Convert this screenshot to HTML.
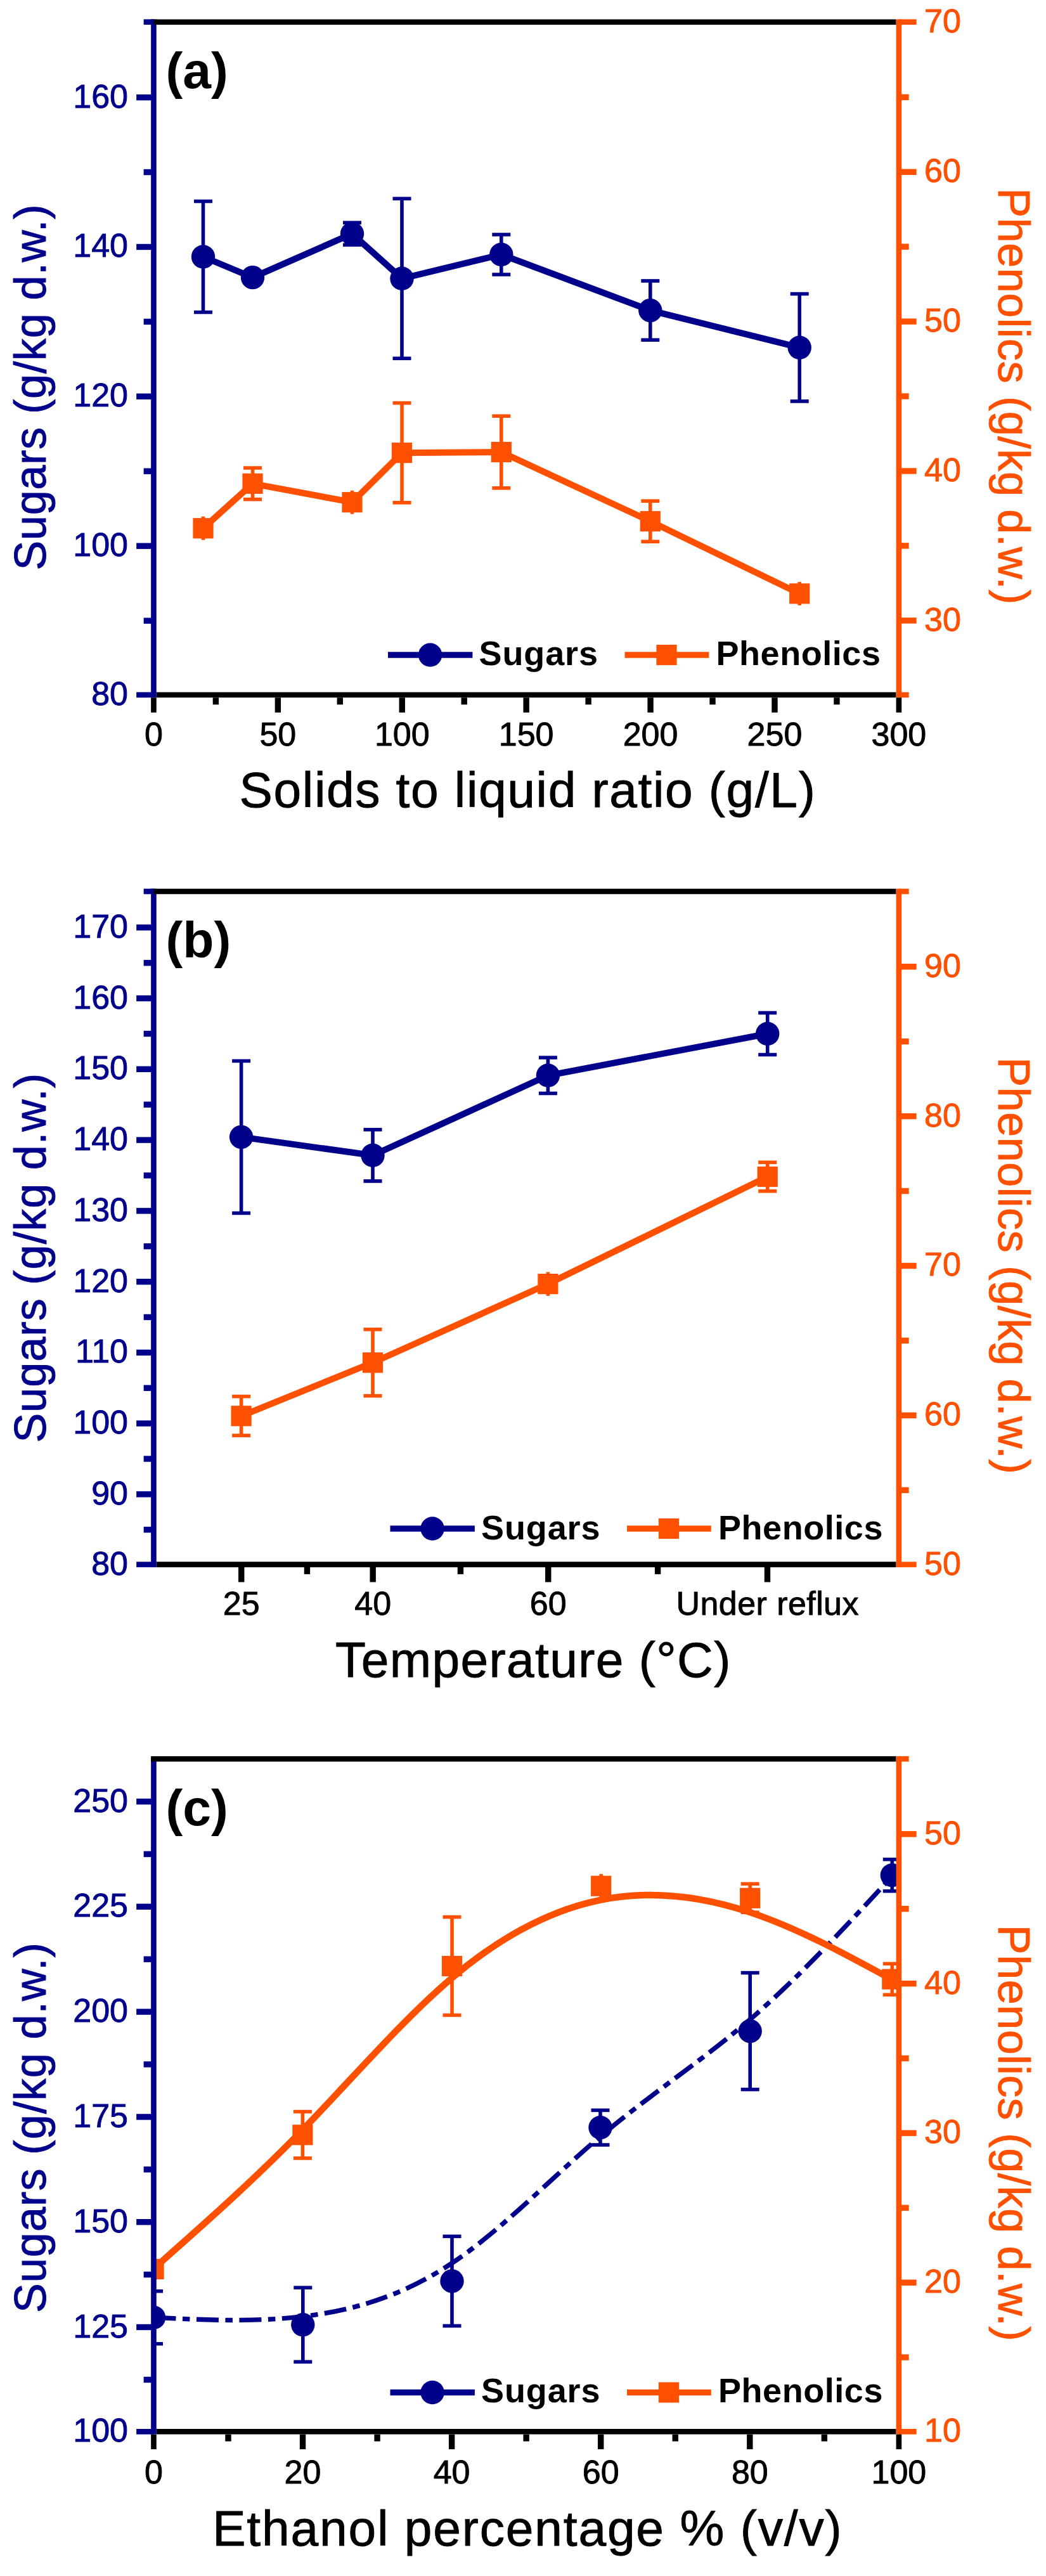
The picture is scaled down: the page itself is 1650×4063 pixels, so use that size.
<!DOCTYPE html>
<html><head><meta charset="utf-8"><title>Figure</title>
<style>html,body{margin:0;padding:0;background:#fff}svg{display:block}text{font-family:"Liberation Sans",sans-serif}</style>
</head><body>
<svg width="1650" height="4063" viewBox="0 0 1650 4063">
<rect width="1650" height="4063" fill="#fff"/>
<clipPath id="ca"><rect x="242.45" y="34.7" width="1175.45" height="1061.3"/></clipPath>
<g clip-path="url(#ca)">
<line x1="320.5" y1="317.5" x2="320.5" y2="492.5" stroke="#00008B" stroke-width="5.6" />
<line x1="306" y1="317.5" x2="335" y2="317.5" stroke="#00008B" stroke-width="5.6" />
<line x1="306" y1="492.5" x2="335" y2="492.5" stroke="#00008B" stroke-width="5.6" />
<line x1="555.5" y1="351.2" x2="555.5" y2="386.2" stroke="#00008B" stroke-width="5.6" />
<line x1="541" y1="351.2" x2="570" y2="351.2" stroke="#00008B" stroke-width="5.6" />
<line x1="541" y1="386.2" x2="570" y2="386.2" stroke="#00008B" stroke-width="5.6" />
<line x1="634" y1="313.3" x2="634" y2="565.3" stroke="#00008B" stroke-width="5.6" />
<line x1="619.5" y1="313.3" x2="648.5" y2="313.3" stroke="#00008B" stroke-width="5.6" />
<line x1="619.5" y1="565.3" x2="648.5" y2="565.3" stroke="#00008B" stroke-width="5.6" />
<line x1="790.8" y1="370" x2="790.8" y2="433" stroke="#00008B" stroke-width="5.6" />
<line x1="776.3" y1="370" x2="805.3" y2="370" stroke="#00008B" stroke-width="5.6" />
<line x1="776.3" y1="433" x2="805.3" y2="433" stroke="#00008B" stroke-width="5.6" />
<line x1="1025.8" y1="443" x2="1025.8" y2="536.2" stroke="#00008B" stroke-width="5.6" />
<line x1="1011.3" y1="443" x2="1040.3" y2="443" stroke="#00008B" stroke-width="5.6" />
<line x1="1011.3" y1="536.2" x2="1040.3" y2="536.2" stroke="#00008B" stroke-width="5.6" />
<line x1="1261.2" y1="463.5" x2="1261.2" y2="632.9" stroke="#00008B" stroke-width="5.6" />
<line x1="1246.7" y1="463.5" x2="1275.7" y2="463.5" stroke="#00008B" stroke-width="5.6" />
<line x1="1246.7" y1="632.9" x2="1275.7" y2="632.9" stroke="#00008B" stroke-width="5.6" />
<polyline points="320.5,405 398.5,437.6 555.5,368.7 634,439.3 790.8,401.5 1025.8,489.6 1261.2,548.2" fill="none" stroke="#00008B" stroke-width="10" stroke-linejoin="round" />
<circle cx="320.5" cy="405" r="18.7" fill="#00008B"/>
<circle cx="398.5" cy="437.6" r="18.7" fill="#00008B"/>
<circle cx="555.5" cy="368.7" r="18.7" fill="#00008B"/>
<circle cx="634" cy="439.3" r="18.7" fill="#00008B"/>
<circle cx="790.8" cy="401.5" r="18.7" fill="#00008B"/>
<circle cx="1025.8" cy="489.6" r="18.7" fill="#00008B"/>
<circle cx="1261.2" cy="548.2" r="18.7" fill="#00008B"/>
<line x1="320.5" y1="814.7" x2="320.5" y2="851.7" stroke="#FF5000" stroke-width="5.6" />
<line x1="398.5" y1="738" x2="398.5" y2="787.6" stroke="#FF5000" stroke-width="5.6" />
<line x1="384" y1="738" x2="413" y2="738" stroke="#FF5000" stroke-width="5.6" />
<line x1="384" y1="787.6" x2="413" y2="787.6" stroke="#FF5000" stroke-width="5.6" />
<line x1="555.5" y1="773.7" x2="555.5" y2="810.7" stroke="#FF5000" stroke-width="5.6" />
<line x1="634" y1="635.6" x2="634" y2="792.8" stroke="#FF5000" stroke-width="5.6" />
<line x1="619.5" y1="635.6" x2="648.5" y2="635.6" stroke="#FF5000" stroke-width="5.6" />
<line x1="619.5" y1="792.8" x2="648.5" y2="792.8" stroke="#FF5000" stroke-width="5.6" />
<line x1="790.8" y1="656.2" x2="790.8" y2="769.8" stroke="#FF5000" stroke-width="5.6" />
<line x1="776.3" y1="656.2" x2="805.3" y2="656.2" stroke="#FF5000" stroke-width="5.6" />
<line x1="776.3" y1="769.8" x2="805.3" y2="769.8" stroke="#FF5000" stroke-width="5.6" />
<line x1="1025.8" y1="790.2" x2="1025.8" y2="854.2" stroke="#FF5000" stroke-width="5.6" />
<line x1="1011.3" y1="790.2" x2="1040.3" y2="790.2" stroke="#FF5000" stroke-width="5.6" />
<line x1="1011.3" y1="854.2" x2="1040.3" y2="854.2" stroke="#FF5000" stroke-width="5.6" />
<line x1="1261.2" y1="917.8" x2="1261.2" y2="954.8" stroke="#FF5000" stroke-width="5.6" />
<polyline points="320.5,833.2 398.5,762.8 555.5,792.2 634,714.2 790.8,713 1025.8,822.2 1261.2,936.3" fill="none" stroke="#FF5000" stroke-width="10" stroke-linejoin="round" />
<rect x="304.4" y="817.1" width="32.2" height="32.2" fill="#FF5000"/>
<rect x="382.4" y="746.7" width="32.2" height="32.2" fill="#FF5000"/>
<rect x="539.4" y="776.1" width="32.2" height="32.2" fill="#FF5000"/>
<rect x="617.9" y="698.1" width="32.2" height="32.2" fill="#FF5000"/>
<rect x="774.7" y="696.9" width="32.2" height="32.2" fill="#FF5000"/>
<rect x="1009.7" y="806.1" width="32.2" height="32.2" fill="#FF5000"/>
<rect x="1245.1" y="920.2" width="32.2" height="32.2" fill="#FF5000"/>
</g>
<line x1="246.75" y1="1096" x2="1413.6" y2="1096" stroke="#000000" stroke-width="8.6" />
<line x1="242.45" y1="30.4" x2="242.45" y2="1100.3" stroke="#00008B" stroke-width="8.6" />
<line x1="238.15" y1="34.7" x2="1413.6" y2="34.7" stroke="#000000" stroke-width="8.6" />
<line x1="1417.9" y1="30.4" x2="1417.9" y2="1100.3" stroke="#FF5000" stroke-width="8.6" />
<line x1="215.15" y1="1096" x2="242.45" y2="1096" stroke="#00008B" stroke-width="8.6" />
<text x="202" y="1112" font-size="52" fill="#00008B" text-anchor="end" stroke="#00008B" stroke-width="0.9">80</text>
<line x1="215.15" y1="861.16" x2="242.45" y2="861.16" stroke="#00008B" stroke-width="9.4" />
<text x="202" y="877.16" font-size="52" fill="#00008B" text-anchor="end" stroke="#00008B" stroke-width="0.9">100</text>
<line x1="215.15" y1="625.31" x2="242.45" y2="625.31" stroke="#00008B" stroke-width="9.4" />
<text x="202" y="641.31" font-size="52" fill="#00008B" text-anchor="end" stroke="#00008B" stroke-width="0.9">120</text>
<line x1="215.15" y1="389.47" x2="242.45" y2="389.47" stroke="#00008B" stroke-width="9.4" />
<text x="202" y="405.47" font-size="52" fill="#00008B" text-anchor="end" stroke="#00008B" stroke-width="0.9">140</text>
<line x1="215.15" y1="153.62" x2="242.45" y2="153.62" stroke="#00008B" stroke-width="9.4" />
<text x="202" y="169.62" font-size="52" fill="#00008B" text-anchor="end" stroke="#00008B" stroke-width="0.9">160</text>
<line x1="226.65" y1="979.08" x2="242.45" y2="979.08" stroke="#00008B" stroke-width="9.4" />
<line x1="226.65" y1="743.23" x2="242.45" y2="743.23" stroke="#00008B" stroke-width="9.4" />
<line x1="226.65" y1="507.39" x2="242.45" y2="507.39" stroke="#00008B" stroke-width="9.4" />
<line x1="226.65" y1="271.54" x2="242.45" y2="271.54" stroke="#00008B" stroke-width="9.4" />
<line x1="226.65" y1="34.7" x2="242.45" y2="34.7" stroke="#00008B" stroke-width="8.6" />
<line x1="1417.9" y1="978.78" x2="1445.7" y2="978.78" stroke="#FF5000" stroke-width="9.4" />
<text x="1458" y="994.78" font-size="52" fill="#FF5000" stroke="#FF5000" stroke-width="0.9">30</text>
<line x1="1417.9" y1="742.93" x2="1445.7" y2="742.93" stroke="#FF5000" stroke-width="9.4" />
<text x="1458" y="758.93" font-size="52" fill="#FF5000" stroke="#FF5000" stroke-width="0.9">40</text>
<line x1="1417.9" y1="507.09" x2="1445.7" y2="507.09" stroke="#FF5000" stroke-width="9.4" />
<text x="1458" y="523.09" font-size="52" fill="#FF5000" stroke="#FF5000" stroke-width="0.9">50</text>
<line x1="1417.9" y1="271.24" x2="1445.7" y2="271.24" stroke="#FF5000" stroke-width="9.4" />
<text x="1458" y="287.24" font-size="52" fill="#FF5000" stroke="#FF5000" stroke-width="0.9">60</text>
<line x1="1417.9" y1="34.7" x2="1445.7" y2="34.7" stroke="#FF5000" stroke-width="8.6" />
<text x="1458" y="50.7" font-size="52" fill="#FF5000" stroke="#FF5000" stroke-width="0.9">70</text>
<line x1="1417.9" y1="1096" x2="1433.7" y2="1096" stroke="#FF5000" stroke-width="8.6" />
<line x1="1417.9" y1="860.86" x2="1433.7" y2="860.86" stroke="#FF5000" stroke-width="9.4" />
<line x1="1417.9" y1="625.01" x2="1433.7" y2="625.01" stroke="#FF5000" stroke-width="9.4" />
<line x1="1417.9" y1="389.17" x2="1433.7" y2="389.17" stroke="#FF5000" stroke-width="9.4" />
<line x1="1417.9" y1="153.32" x2="1433.7" y2="153.32" stroke="#FF5000" stroke-width="9.4" />
<line x1="242.45" y1="1100.3" x2="242.45" y2="1123.8" stroke="#000000" stroke-width="8.6" />
<text x="242.45" y="1175.5" font-size="52" fill="#000000" text-anchor="middle" stroke="#000000" stroke-width="0.9">0</text>
<line x1="438.36" y1="1100.3" x2="438.36" y2="1123.8" stroke="#000000" stroke-width="9.4" />
<text x="438.36" y="1175.5" font-size="52" fill="#000000" text-anchor="middle" stroke="#000000" stroke-width="0.9">50</text>
<line x1="634.27" y1="1100.3" x2="634.27" y2="1123.8" stroke="#000000" stroke-width="9.4" />
<text x="634.27" y="1175.5" font-size="52" fill="#000000" text-anchor="middle" stroke="#000000" stroke-width="0.9">100</text>
<line x1="830.17" y1="1100.3" x2="830.17" y2="1123.8" stroke="#000000" stroke-width="9.4" />
<text x="830.17" y="1175.5" font-size="52" fill="#000000" text-anchor="middle" stroke="#000000" stroke-width="0.9">150</text>
<line x1="1026.08" y1="1100.3" x2="1026.08" y2="1123.8" stroke="#000000" stroke-width="9.4" />
<text x="1026.08" y="1175.5" font-size="52" fill="#000000" text-anchor="middle" stroke="#000000" stroke-width="0.9">200</text>
<line x1="1221.99" y1="1100.3" x2="1221.99" y2="1123.8" stroke="#000000" stroke-width="9.4" />
<text x="1221.99" y="1175.5" font-size="52" fill="#000000" text-anchor="middle" stroke="#000000" stroke-width="0.9">250</text>
<line x1="1417.9" y1="1100.3" x2="1417.9" y2="1123.8" stroke="#000000" stroke-width="8.6" />
<text x="1417.9" y="1175.5" font-size="52" fill="#000000" text-anchor="middle" stroke="#000000" stroke-width="0.9">300</text>
<line x1="340.4" y1="1100.3" x2="340.4" y2="1111.3" stroke="#000000" stroke-width="9.4" />
<line x1="536.31" y1="1100.3" x2="536.31" y2="1111.3" stroke="#000000" stroke-width="9.4" />
<line x1="732.22" y1="1100.3" x2="732.22" y2="1111.3" stroke="#000000" stroke-width="9.4" />
<line x1="928.13" y1="1100.3" x2="928.13" y2="1111.3" stroke="#000000" stroke-width="9.4" />
<line x1="1124.04" y1="1100.3" x2="1124.04" y2="1111.3" stroke="#000000" stroke-width="9.4" />
<line x1="1319.95" y1="1100.3" x2="1319.95" y2="1111.3" stroke="#000000" stroke-width="9.4" />
<line x1="612" y1="1033" x2="745.4" y2="1033" stroke="#00008B" stroke-width="9.5" />
<circle cx="678.6" cy="1033" r="18.7" fill="#00008B"/>
<text x="755.5" y="1049.3" font-size="54" fill="#000000" font-weight="bold" textLength="187.5" lengthAdjust="spacing">Sugars</text>
<line x1="985.5" y1="1033" x2="1118.3" y2="1033" stroke="#FF5000" stroke-width="9.5" />
<rect x="1035.4" y="1016.9" width="32.2" height="32.2" fill="#FF5000"/>
<text x="1129.5" y="1049.3" font-size="54" fill="#000000" font-weight="bold" textLength="259.5" lengthAdjust="spacing">Phenolics</text>
<text x="377.5" y="1273.2" font-size="78.5" fill="#000000" stroke="#000000" stroke-width="0.9" textLength="908.3" lengthAdjust="spacing">Solids to liquid ratio (g/L)</text>
<text x="72" y="899.5" font-size="70" fill="#00008B" stroke="#00008B" stroke-width="0.9" transform="rotate(-90 72 899.5)" textLength="577" lengthAdjust="spacing">Sugars (g/kg d.w.)</text>
<text x="1575" y="296.5" font-size="70" fill="#FF5000" stroke="#FF5000" stroke-width="0.9" transform="rotate(90 1575 296.5)" textLength="656.9" lengthAdjust="spacing">Phenolics (g/kg d.w.)</text>
<text x="261.5" y="139" font-size="80.5" fill="#000000" font-weight="bold">(a)</text>
<clipPath id="cb"><rect x="242.45" y="1406" width="1175.45" height="1061.6"/></clipPath>
<g clip-path="url(#cb)">
<line x1="380.6" y1="1673.4" x2="380.6" y2="1913.4" stroke="#00008B" stroke-width="5.6" />
<line x1="366.1" y1="1673.4" x2="395.1" y2="1673.4" stroke="#00008B" stroke-width="5.6" />
<line x1="366.1" y1="1913.4" x2="395.1" y2="1913.4" stroke="#00008B" stroke-width="5.6" />
<line x1="588" y1="1781.7" x2="588" y2="1862.9" stroke="#00008B" stroke-width="5.6" />
<line x1="573.5" y1="1781.7" x2="602.5" y2="1781.7" stroke="#00008B" stroke-width="5.6" />
<line x1="573.5" y1="1862.9" x2="602.5" y2="1862.9" stroke="#00008B" stroke-width="5.6" />
<line x1="864.4" y1="1668.1" x2="864.4" y2="1724.5" stroke="#00008B" stroke-width="5.6" />
<line x1="849.9" y1="1668.1" x2="878.9" y2="1668.1" stroke="#00008B" stroke-width="5.6" />
<line x1="849.9" y1="1724.5" x2="878.9" y2="1724.5" stroke="#00008B" stroke-width="5.6" />
<line x1="1210.7" y1="1597.5" x2="1210.7" y2="1663.5" stroke="#00008B" stroke-width="5.6" />
<line x1="1196.2" y1="1597.5" x2="1225.2" y2="1597.5" stroke="#00008B" stroke-width="5.6" />
<line x1="1196.2" y1="1663.5" x2="1225.2" y2="1663.5" stroke="#00008B" stroke-width="5.6" />
<polyline points="380.6,1793.4 588,1822.3 864.4,1696.3 1210.7,1630.5" fill="none" stroke="#00008B" stroke-width="10" stroke-linejoin="round" />
<circle cx="380.6" cy="1793.4" r="18.7" fill="#00008B"/>
<circle cx="588" cy="1822.3" r="18.7" fill="#00008B"/>
<circle cx="864.4" cy="1696.3" r="18.7" fill="#00008B"/>
<circle cx="1210.7" cy="1630.5" r="18.7" fill="#00008B"/>
<line x1="380.6" y1="2202.5" x2="380.6" y2="2264.1" stroke="#FF5000" stroke-width="5.6" />
<line x1="366.1" y1="2202.5" x2="395.1" y2="2202.5" stroke="#FF5000" stroke-width="5.6" />
<line x1="366.1" y1="2264.1" x2="395.1" y2="2264.1" stroke="#FF5000" stroke-width="5.6" />
<line x1="588" y1="2096.8" x2="588" y2="2201.6" stroke="#FF5000" stroke-width="5.6" />
<line x1="573.5" y1="2096.8" x2="602.5" y2="2096.8" stroke="#FF5000" stroke-width="5.6" />
<line x1="573.5" y1="2201.6" x2="602.5" y2="2201.6" stroke="#FF5000" stroke-width="5.6" />
<line x1="864.4" y1="2006.3" x2="864.4" y2="2043.9" stroke="#FF5000" stroke-width="5.6" />
<line x1="1210.7" y1="1833.3" x2="1210.7" y2="1878.7" stroke="#FF5000" stroke-width="5.6" />
<line x1="1196.2" y1="1833.3" x2="1225.2" y2="1833.3" stroke="#FF5000" stroke-width="5.6" />
<line x1="1196.2" y1="1878.7" x2="1225.2" y2="1878.7" stroke="#FF5000" stroke-width="5.6" />
<polyline points="380.6,2233.3 588,2149.2 864.4,2025.1 1210.7,1856" fill="none" stroke="#FF5000" stroke-width="10" stroke-linejoin="round" />
<rect x="364.5" y="2217.2" width="32.2" height="32.2" fill="#FF5000"/>
<rect x="571.9" y="2133.1" width="32.2" height="32.2" fill="#FF5000"/>
<rect x="848.3" y="2009" width="32.2" height="32.2" fill="#FF5000"/>
<rect x="1194.6" y="1839.9" width="32.2" height="32.2" fill="#FF5000"/>
</g>
<line x1="246.75" y1="2467.6" x2="1413.6" y2="2467.6" stroke="#000000" stroke-width="8.6" />
<line x1="242.45" y1="1401.7" x2="242.45" y2="2471.9" stroke="#00008B" stroke-width="8.6" />
<line x1="238.15" y1="1406" x2="1413.6" y2="1406" stroke="#000000" stroke-width="8.6" />
<line x1="1417.9" y1="1401.7" x2="1417.9" y2="2471.9" stroke="#FF5000" stroke-width="8.6" />
<line x1="215.15" y1="2467.6" x2="242.45" y2="2467.6" stroke="#00008B" stroke-width="8.6" />
<text x="202" y="2483.6" font-size="52" fill="#00008B" text-anchor="end" stroke="#00008B" stroke-width="0.9">80</text>
<line x1="215.15" y1="2356.85" x2="242.45" y2="2356.85" stroke="#00008B" stroke-width="9.4" />
<text x="202" y="2372.85" font-size="52" fill="#00008B" text-anchor="end" stroke="#00008B" stroke-width="0.9">90</text>
<line x1="215.15" y1="2245.11" x2="242.45" y2="2245.11" stroke="#00008B" stroke-width="9.4" />
<text x="202" y="2261.11" font-size="52" fill="#00008B" text-anchor="end" stroke="#00008B" stroke-width="0.9">100</text>
<line x1="215.15" y1="2133.36" x2="242.45" y2="2133.36" stroke="#00008B" stroke-width="9.4" />
<text x="202" y="2149.36" font-size="52" fill="#00008B" text-anchor="end" stroke="#00008B" stroke-width="0.9">110</text>
<line x1="215.15" y1="2021.61" x2="242.45" y2="2021.61" stroke="#00008B" stroke-width="9.4" />
<text x="202" y="2037.61" font-size="52" fill="#00008B" text-anchor="end" stroke="#00008B" stroke-width="0.9">120</text>
<line x1="215.15" y1="1909.86" x2="242.45" y2="1909.86" stroke="#00008B" stroke-width="9.4" />
<text x="202" y="1925.86" font-size="52" fill="#00008B" text-anchor="end" stroke="#00008B" stroke-width="0.9">130</text>
<line x1="215.15" y1="1798.12" x2="242.45" y2="1798.12" stroke="#00008B" stroke-width="9.4" />
<text x="202" y="1814.12" font-size="52" fill="#00008B" text-anchor="end" stroke="#00008B" stroke-width="0.9">140</text>
<line x1="215.15" y1="1686.37" x2="242.45" y2="1686.37" stroke="#00008B" stroke-width="9.4" />
<text x="202" y="1702.37" font-size="52" fill="#00008B" text-anchor="end" stroke="#00008B" stroke-width="0.9">150</text>
<line x1="215.15" y1="1574.62" x2="242.45" y2="1574.62" stroke="#00008B" stroke-width="9.4" />
<text x="202" y="1590.62" font-size="52" fill="#00008B" text-anchor="end" stroke="#00008B" stroke-width="0.9">160</text>
<line x1="215.15" y1="1462.87" x2="242.45" y2="1462.87" stroke="#00008B" stroke-width="9.4" />
<text x="202" y="1478.87" font-size="52" fill="#00008B" text-anchor="end" stroke="#00008B" stroke-width="0.9">170</text>
<line x1="226.65" y1="2412.73" x2="242.45" y2="2412.73" stroke="#00008B" stroke-width="9.4" />
<line x1="226.65" y1="2300.98" x2="242.45" y2="2300.98" stroke="#00008B" stroke-width="9.4" />
<line x1="226.65" y1="2189.23" x2="242.45" y2="2189.23" stroke="#00008B" stroke-width="9.4" />
<line x1="226.65" y1="2077.48" x2="242.45" y2="2077.48" stroke="#00008B" stroke-width="9.4" />
<line x1="226.65" y1="1965.74" x2="242.45" y2="1965.74" stroke="#00008B" stroke-width="9.4" />
<line x1="226.65" y1="1853.99" x2="242.45" y2="1853.99" stroke="#00008B" stroke-width="9.4" />
<line x1="226.65" y1="1742.24" x2="242.45" y2="1742.24" stroke="#00008B" stroke-width="9.4" />
<line x1="226.65" y1="1630.49" x2="242.45" y2="1630.49" stroke="#00008B" stroke-width="9.4" />
<line x1="226.65" y1="1518.75" x2="242.45" y2="1518.75" stroke="#00008B" stroke-width="9.4" />
<line x1="226.65" y1="1406" x2="242.45" y2="1406" stroke="#00008B" stroke-width="8.6" />
<line x1="1417.9" y1="2467.6" x2="1445.7" y2="2467.6" stroke="#FF5000" stroke-width="8.6" />
<text x="1458" y="2483.6" font-size="52" fill="#FF5000" stroke="#FF5000" stroke-width="0.9">50</text>
<line x1="1417.9" y1="2232.39" x2="1445.7" y2="2232.39" stroke="#FF5000" stroke-width="9.4" />
<text x="1458" y="2248.39" font-size="52" fill="#FF5000" stroke="#FF5000" stroke-width="0.9">60</text>
<line x1="1417.9" y1="1996.48" x2="1445.7" y2="1996.48" stroke="#FF5000" stroke-width="9.4" />
<text x="1458" y="2012.48" font-size="52" fill="#FF5000" stroke="#FF5000" stroke-width="0.9">70</text>
<line x1="1417.9" y1="1760.57" x2="1445.7" y2="1760.57" stroke="#FF5000" stroke-width="9.4" />
<text x="1458" y="1776.57" font-size="52" fill="#FF5000" stroke="#FF5000" stroke-width="0.9">80</text>
<line x1="1417.9" y1="1524.66" x2="1445.7" y2="1524.66" stroke="#FF5000" stroke-width="9.4" />
<text x="1458" y="1540.66" font-size="52" fill="#FF5000" stroke="#FF5000" stroke-width="0.9">90</text>
<line x1="1417.9" y1="2350.34" x2="1433.7" y2="2350.34" stroke="#FF5000" stroke-width="9.4" />
<line x1="1417.9" y1="2114.43" x2="1433.7" y2="2114.43" stroke="#FF5000" stroke-width="9.4" />
<line x1="1417.9" y1="1878.52" x2="1433.7" y2="1878.52" stroke="#FF5000" stroke-width="9.4" />
<line x1="1417.9" y1="1642.61" x2="1433.7" y2="1642.61" stroke="#FF5000" stroke-width="9.4" />
<line x1="1417.9" y1="1406" x2="1433.7" y2="1406" stroke="#FF5000" stroke-width="8.6" />
<line x1="380.74" y1="2471.9" x2="380.74" y2="2495.4" stroke="#000000" stroke-width="9.4" />
<text x="380.74" y="2546.6" font-size="52" fill="#000000" text-anchor="middle" stroke="#000000" stroke-width="0.9">25</text>
<line x1="588.17" y1="2471.9" x2="588.17" y2="2495.4" stroke="#000000" stroke-width="9.4" />
<text x="588.17" y="2546.6" font-size="52" fill="#000000" text-anchor="middle" stroke="#000000" stroke-width="0.9">40</text>
<line x1="864.75" y1="2471.9" x2="864.75" y2="2495.4" stroke="#000000" stroke-width="9.4" />
<text x="864.75" y="2546.6" font-size="52" fill="#000000" text-anchor="middle" stroke="#000000" stroke-width="0.9">60</text>
<line x1="1210.47" y1="2471.9" x2="1210.47" y2="2495.4" stroke="#000000" stroke-width="9.4" />
<text x="1210.47" y="2546.6" font-size="52" fill="#000000" text-anchor="middle" stroke="#000000" stroke-width="0.9" textLength="288" lengthAdjust="spacing">Under reflux</text>
<line x1="484.45" y1="2471.9" x2="484.45" y2="2482.9" stroke="#000000" stroke-width="9.4" />
<line x1="726.46" y1="2471.9" x2="726.46" y2="2482.9" stroke="#000000" stroke-width="9.4" />
<line x1="1037.61" y1="2471.9" x2="1037.61" y2="2482.9" stroke="#000000" stroke-width="9.4" />
<line x1="615.5" y1="2411" x2="748.9" y2="2411" stroke="#00008B" stroke-width="9.5" />
<circle cx="682.1" cy="2411" r="18.7" fill="#00008B"/>
<text x="759" y="2428" font-size="54" fill="#000000" font-weight="bold" textLength="187.5" lengthAdjust="spacing">Sugars</text>
<line x1="989" y1="2411" x2="1121.8" y2="2411" stroke="#FF5000" stroke-width="9.5" />
<rect x="1038.9" y="2394.9" width="32.2" height="32.2" fill="#FF5000"/>
<text x="1133" y="2428" font-size="54" fill="#000000" font-weight="bold" textLength="259.5" lengthAdjust="spacing">Phenolics</text>
<text x="529.1" y="2645" font-size="78.5" fill="#000000" stroke="#000000" stroke-width="0.9" textLength="623.2" lengthAdjust="spacing">Temperature (°C)</text>
<text x="72" y="2275.5" font-size="70" fill="#00008B" stroke="#00008B" stroke-width="0.9" transform="rotate(-90 72 2275.5)" textLength="582.5" lengthAdjust="spacing">Sugars (g/kg d.w.)</text>
<text x="1575" y="1667.6" font-size="70" fill="#FF5000" stroke="#FF5000" stroke-width="0.9" transform="rotate(90 1575 1667.6)" textLength="657.1" lengthAdjust="spacing">Phenolics (g/kg d.w.)</text>
<text x="261.5" y="1510.3" font-size="80.5" fill="#000000" font-weight="bold">(b)</text>
<clipPath id="cc"><rect x="242.45" y="2774.2" width="1175.45" height="1061.1"/></clipPath>
<g clip-path="url(#cc)">
<line x1="242.5" y1="3613.8" x2="242.5" y2="3696.8" stroke="#00008B" stroke-width="5.6" />
<line x1="228" y1="3613.8" x2="257" y2="3613.8" stroke="#00008B" stroke-width="5.6" />
<line x1="228" y1="3696.8" x2="257" y2="3696.8" stroke="#00008B" stroke-width="5.6" />
<line x1="477.8" y1="3608.2" x2="477.8" y2="3725.2" stroke="#00008B" stroke-width="5.6" />
<line x1="463.3" y1="3608.2" x2="492.3" y2="3608.2" stroke="#00008B" stroke-width="5.6" />
<line x1="463.3" y1="3725.2" x2="492.3" y2="3725.2" stroke="#00008B" stroke-width="5.6" />
<line x1="713" y1="3527.3" x2="713" y2="3668.5" stroke="#00008B" stroke-width="5.6" />
<line x1="698.5" y1="3527.3" x2="727.5" y2="3527.3" stroke="#00008B" stroke-width="5.6" />
<line x1="698.5" y1="3668.5" x2="727.5" y2="3668.5" stroke="#00008B" stroke-width="5.6" />
<line x1="947" y1="3328.4" x2="947" y2="3383" stroke="#00008B" stroke-width="5.6" />
<line x1="932.5" y1="3328.4" x2="961.5" y2="3328.4" stroke="#00008B" stroke-width="5.6" />
<line x1="932.5" y1="3383" x2="961.5" y2="3383" stroke="#00008B" stroke-width="5.6" />
<line x1="1183.2" y1="3111.6" x2="1183.2" y2="3295.6" stroke="#00008B" stroke-width="5.6" />
<line x1="1168.7" y1="3111.6" x2="1197.7" y2="3111.6" stroke="#00008B" stroke-width="5.6" />
<line x1="1168.7" y1="3295.6" x2="1197.7" y2="3295.6" stroke="#00008B" stroke-width="5.6" />
<line x1="1407.3" y1="2932.7" x2="1407.3" y2="2982.7" stroke="#00008B" stroke-width="5.6" />
<line x1="1392.8" y1="2932.7" x2="1421.8" y2="2932.7" stroke="#00008B" stroke-width="5.6" />
<line x1="1392.8" y1="2982.7" x2="1421.8" y2="2982.7" stroke="#00008B" stroke-width="5.6" />
<path d="M242.5,3655.2 C320.93,3659.1 399.37,3663 477.78,3653.68 C556.2,3644.37 634.6,3621.83 712.8,3569.67 C791,3517.5 869,3435.7 947.37,3369.48 C1025.73,3303.27 1104.47,3252.63 1181.18,3186.87 C1257.9,3121.1 1332.6,3040.2 1407.3,2959.3" fill="none" stroke="#00008B" stroke-width="7.4" stroke-dasharray="35 10.5 11.5 10.5"/>
<circle cx="242.5" cy="3655.3" r="18.7" fill="#00008B"/>
<circle cx="477.8" cy="3666.7" r="18.7" fill="#00008B"/>
<circle cx="713" cy="3597.9" r="18.7" fill="#00008B"/>
<circle cx="947" cy="3355.7" r="18.7" fill="#00008B"/>
<circle cx="1183.2" cy="3203.6" r="18.7" fill="#00008B"/>
<circle cx="1407.3" cy="2957.7" r="18.7" fill="#00008B"/>
<line x1="242.5" y1="3561" x2="242.5" y2="3597" stroke="#FF5000" stroke-width="5.6" />
<line x1="477.4" y1="3330.6" x2="477.4" y2="3404" stroke="#FF5000" stroke-width="5.6" />
<line x1="462.9" y1="3330.6" x2="491.9" y2="3330.6" stroke="#FF5000" stroke-width="5.6" />
<line x1="462.9" y1="3404" x2="491.9" y2="3404" stroke="#FF5000" stroke-width="5.6" />
<line x1="713" y1="3023.6" x2="713" y2="3178.4" stroke="#FF5000" stroke-width="5.6" />
<line x1="698.5" y1="3023.6" x2="727.5" y2="3023.6" stroke="#FF5000" stroke-width="5.6" />
<line x1="698.5" y1="3178.4" x2="727.5" y2="3178.4" stroke="#FF5000" stroke-width="5.6" />
<line x1="948.2" y1="2955.7" x2="948.2" y2="2993.7" stroke="#FF5000" stroke-width="5.6" />
<line x1="1183.2" y1="2971.3" x2="1183.2" y2="3016.3" stroke="#FF5000" stroke-width="5.6" />
<line x1="1168.7" y1="2971.3" x2="1197.7" y2="2971.3" stroke="#FF5000" stroke-width="5.6" />
<line x1="1168.7" y1="3016.3" x2="1197.7" y2="3016.3" stroke="#FF5000" stroke-width="5.6" />
<line x1="1407.3" y1="3097.2" x2="1407.3" y2="3146.2" stroke="#FF5000" stroke-width="5.6" />
<line x1="1392.8" y1="3097.2" x2="1421.8" y2="3097.2" stroke="#FF5000" stroke-width="5.6" />
<line x1="1392.8" y1="3146.2" x2="1421.8" y2="3146.2" stroke="#FF5000" stroke-width="5.6" />
<path d="M242.5,3578 C320.8,3508.9 399.1,3439.8 477.52,3359.13 C555.93,3278.47 634.47,3186.23 712.93,3119.67 C791.4,3053.1 869.8,3012.2 948.17,2996.53 C1026.53,2980.87 1104.87,2990.43 1181.38,3015.62 C1257.9,3040.8 1332.6,3081.6 1407.3,3122.4" fill="none" stroke="#FF5000" stroke-width="10.4" />
<rect x="226.4" y="3562.9" width="32.2" height="32.2" fill="#FF5000"/>
<rect x="461.3" y="3351.2" width="32.2" height="32.2" fill="#FF5000"/>
<rect x="696.9" y="3084.9" width="32.2" height="32.2" fill="#FF5000"/>
<rect x="932.1" y="2958.6" width="32.2" height="32.2" fill="#FF5000"/>
<rect x="1167.1" y="2977.7" width="32.2" height="32.2" fill="#FF5000"/>
<rect x="1391.2" y="3105.6" width="32.2" height="32.2" fill="#FF5000"/>
</g>
<line x1="246.75" y1="3835.3" x2="1413.6" y2="3835.3" stroke="#000000" stroke-width="8.6" />
<line x1="242.45" y1="2769.9" x2="242.45" y2="3839.6" stroke="#00008B" stroke-width="8.6" />
<line x1="238.15" y1="2774.2" x2="1413.6" y2="2774.2" stroke="#000000" stroke-width="8.6" />
<line x1="1417.9" y1="2769.9" x2="1417.9" y2="3839.6" stroke="#FF5000" stroke-width="8.6" />
<line x1="215.15" y1="3835.3" x2="242.45" y2="3835.3" stroke="#00008B" stroke-width="8.6" />
<text x="202" y="3851.3" font-size="52" fill="#00008B" text-anchor="end" stroke="#00008B" stroke-width="0.9">100</text>
<line x1="215.15" y1="3670.5" x2="242.45" y2="3670.5" stroke="#00008B" stroke-width="9.4" />
<text x="202" y="3686.5" font-size="52" fill="#00008B" text-anchor="end" stroke="#00008B" stroke-width="0.9">125</text>
<line x1="215.15" y1="3504.71" x2="242.45" y2="3504.71" stroke="#00008B" stroke-width="9.4" />
<text x="202" y="3520.71" font-size="52" fill="#00008B" text-anchor="end" stroke="#00008B" stroke-width="0.9">150</text>
<line x1="215.15" y1="3338.91" x2="242.45" y2="3338.91" stroke="#00008B" stroke-width="9.4" />
<text x="202" y="3354.91" font-size="52" fill="#00008B" text-anchor="end" stroke="#00008B" stroke-width="0.9">175</text>
<line x1="215.15" y1="3173.11" x2="242.45" y2="3173.11" stroke="#00008B" stroke-width="9.4" />
<text x="202" y="3189.11" font-size="52" fill="#00008B" text-anchor="end" stroke="#00008B" stroke-width="0.9">200</text>
<line x1="215.15" y1="3007.32" x2="242.45" y2="3007.32" stroke="#00008B" stroke-width="9.4" />
<text x="202" y="3023.32" font-size="52" fill="#00008B" text-anchor="end" stroke="#00008B" stroke-width="0.9">225</text>
<line x1="215.15" y1="2841.52" x2="242.45" y2="2841.52" stroke="#00008B" stroke-width="9.4" />
<text x="202" y="2857.52" font-size="52" fill="#00008B" text-anchor="end" stroke="#00008B" stroke-width="0.9">250</text>
<line x1="226.65" y1="3753.4" x2="242.45" y2="3753.4" stroke="#00008B" stroke-width="9.4" />
<line x1="226.65" y1="3587.6" x2="242.45" y2="3587.6" stroke="#00008B" stroke-width="9.4" />
<line x1="226.65" y1="3421.81" x2="242.45" y2="3421.81" stroke="#00008B" stroke-width="9.4" />
<line x1="226.65" y1="3256.01" x2="242.45" y2="3256.01" stroke="#00008B" stroke-width="9.4" />
<line x1="226.65" y1="3090.21" x2="242.45" y2="3090.21" stroke="#00008B" stroke-width="9.4" />
<line x1="226.65" y1="2924.42" x2="242.45" y2="2924.42" stroke="#00008B" stroke-width="9.4" />
<line x1="1417.9" y1="3835.3" x2="1445.7" y2="3835.3" stroke="#FF5000" stroke-width="8.6" />
<text x="1458" y="3851.3" font-size="52" fill="#FF5000" stroke="#FF5000" stroke-width="0.9">10</text>
<line x1="1417.9" y1="3600.2" x2="1445.7" y2="3600.2" stroke="#FF5000" stroke-width="9.4" />
<text x="1458" y="3616.2" font-size="52" fill="#FF5000" stroke="#FF5000" stroke-width="0.9">20</text>
<line x1="1417.9" y1="3364.4" x2="1445.7" y2="3364.4" stroke="#FF5000" stroke-width="9.4" />
<text x="1458" y="3380.4" font-size="52" fill="#FF5000" stroke="#FF5000" stroke-width="0.9">30</text>
<line x1="1417.9" y1="3128.6" x2="1445.7" y2="3128.6" stroke="#FF5000" stroke-width="9.4" />
<text x="1458" y="3144.6" font-size="52" fill="#FF5000" stroke="#FF5000" stroke-width="0.9">40</text>
<line x1="1417.9" y1="2892.8" x2="1445.7" y2="2892.8" stroke="#FF5000" stroke-width="9.4" />
<text x="1458" y="2908.8" font-size="52" fill="#FF5000" stroke="#FF5000" stroke-width="0.9">50</text>
<line x1="1417.9" y1="3718.1" x2="1433.7" y2="3718.1" stroke="#FF5000" stroke-width="9.4" />
<line x1="1417.9" y1="3482.3" x2="1433.7" y2="3482.3" stroke="#FF5000" stroke-width="9.4" />
<line x1="1417.9" y1="3246.5" x2="1433.7" y2="3246.5" stroke="#FF5000" stroke-width="9.4" />
<line x1="1417.9" y1="3010.7" x2="1433.7" y2="3010.7" stroke="#FF5000" stroke-width="9.4" />
<line x1="1417.9" y1="2774.2" x2="1433.7" y2="2774.2" stroke="#FF5000" stroke-width="8.6" />
<line x1="242.45" y1="3839.6" x2="242.45" y2="3863.1" stroke="#000000" stroke-width="8.6" />
<text x="242.45" y="3916.8" font-size="52" fill="#000000" text-anchor="middle" stroke="#000000" stroke-width="0.9">0</text>
<line x1="477.54" y1="3839.6" x2="477.54" y2="3863.1" stroke="#000000" stroke-width="9.4" />
<text x="477.54" y="3916.8" font-size="52" fill="#000000" text-anchor="middle" stroke="#000000" stroke-width="0.9">20</text>
<line x1="712.63" y1="3839.6" x2="712.63" y2="3863.1" stroke="#000000" stroke-width="9.4" />
<text x="712.63" y="3916.8" font-size="52" fill="#000000" text-anchor="middle" stroke="#000000" stroke-width="0.9">40</text>
<line x1="947.72" y1="3839.6" x2="947.72" y2="3863.1" stroke="#000000" stroke-width="9.4" />
<text x="947.72" y="3916.8" font-size="52" fill="#000000" text-anchor="middle" stroke="#000000" stroke-width="0.9">60</text>
<line x1="1182.81" y1="3839.6" x2="1182.81" y2="3863.1" stroke="#000000" stroke-width="9.4" />
<text x="1182.81" y="3916.8" font-size="52" fill="#000000" text-anchor="middle" stroke="#000000" stroke-width="0.9">80</text>
<line x1="1417.9" y1="3839.6" x2="1417.9" y2="3863.1" stroke="#000000" stroke-width="8.6" />
<text x="1417.9" y="3916.8" font-size="52" fill="#000000" text-anchor="middle" stroke="#000000" stroke-width="0.9">100</text>
<line x1="360" y1="3839.6" x2="360" y2="3850.6" stroke="#000000" stroke-width="9.4" />
<line x1="595.09" y1="3839.6" x2="595.09" y2="3850.6" stroke="#000000" stroke-width="9.4" />
<line x1="830.17" y1="3839.6" x2="830.17" y2="3850.6" stroke="#000000" stroke-width="9.4" />
<line x1="1065.26" y1="3839.6" x2="1065.26" y2="3850.6" stroke="#000000" stroke-width="9.4" />
<line x1="1300.36" y1="3839.6" x2="1300.36" y2="3850.6" stroke="#000000" stroke-width="9.4" />
<line x1="615.5" y1="3773.5" x2="748.9" y2="3773.5" stroke="#00008B" stroke-width="9.5" />
<circle cx="682.1" cy="3773.5" r="18.7" fill="#00008B"/>
<text x="759" y="3789" font-size="54" fill="#000000" font-weight="bold" textLength="187.5" lengthAdjust="spacing">Sugars</text>
<line x1="989" y1="3773.5" x2="1121.8" y2="3773.5" stroke="#FF5000" stroke-width="9.5" />
<rect x="1038.9" y="3757.4" width="32.2" height="32.2" fill="#FF5000"/>
<text x="1133" y="3789" font-size="54" fill="#000000" font-weight="bold" textLength="259.5" lengthAdjust="spacing">Phenolics</text>
<text x="335.2" y="4014.8" font-size="78.5" fill="#000000" stroke="#000000" stroke-width="0.9" textLength="992.4" lengthAdjust="spacing">Ethanol percentage % (v/v)</text>
<text x="72" y="3648.1" font-size="70" fill="#00008B" stroke="#00008B" stroke-width="0.9" transform="rotate(-90 72 3648.1)" textLength="584" lengthAdjust="spacing">Sugars (g/kg d.w.)</text>
<text x="1575" y="3036" font-size="70" fill="#FF5000" stroke="#FF5000" stroke-width="0.9" transform="rotate(90 1575 3036)" textLength="656.6" lengthAdjust="spacing">Phenolics (g/kg d.w.)</text>
<text x="261.5" y="2878.5" font-size="80.5" fill="#000000" font-weight="bold">(c)</text>
</svg>
</body></html>
